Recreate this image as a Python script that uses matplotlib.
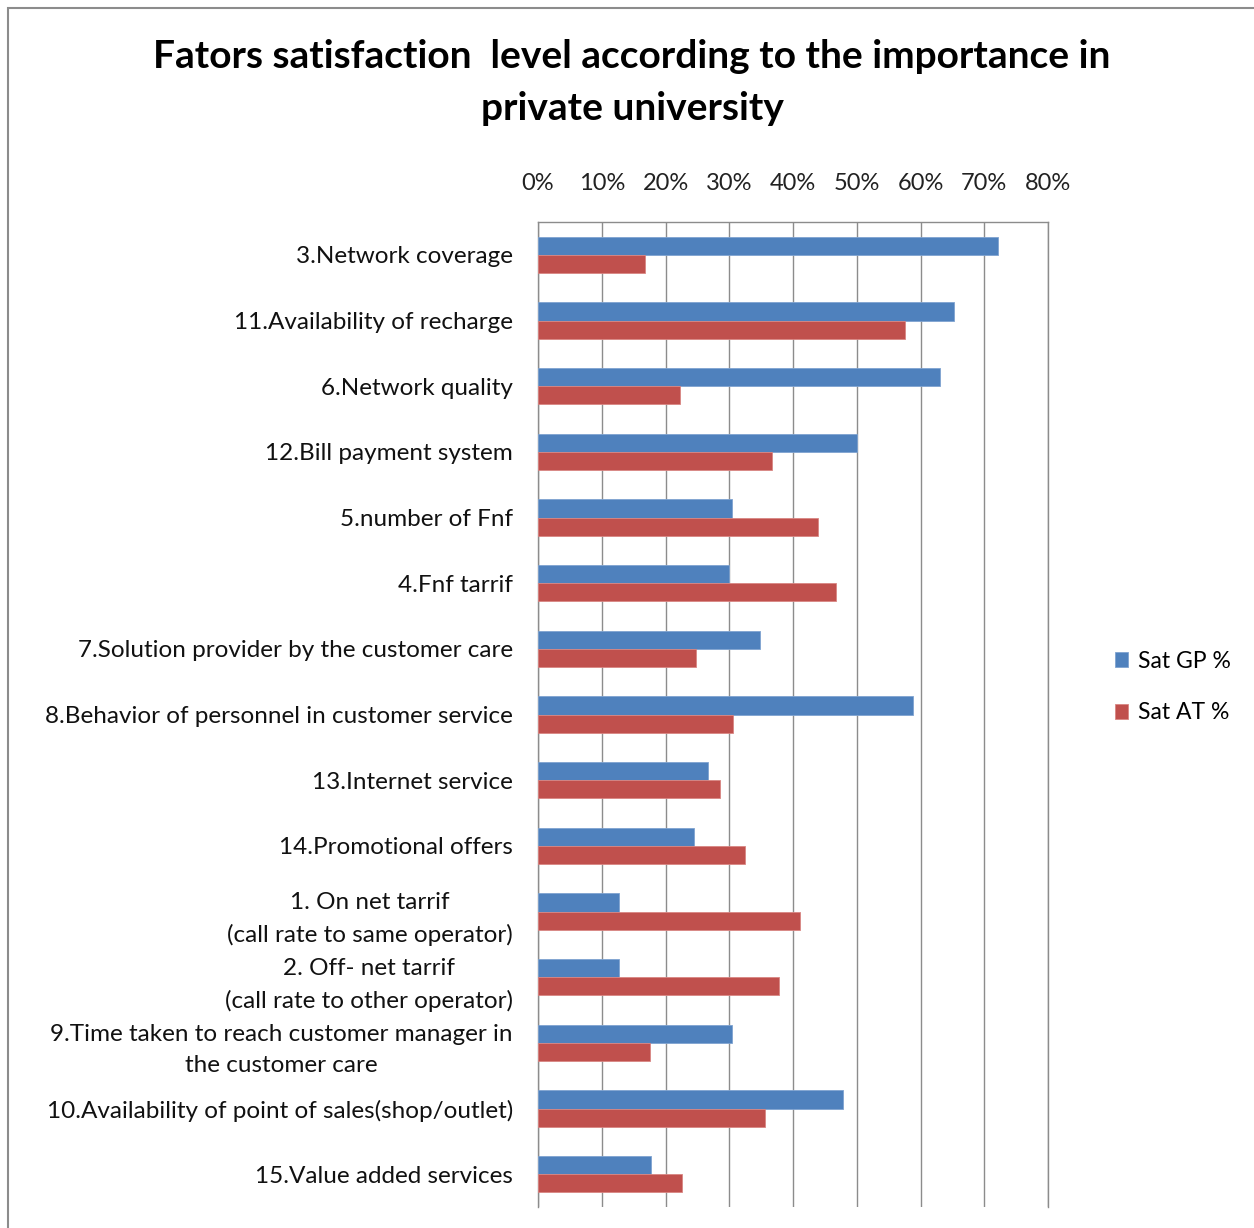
import matplotlib.pyplot as plt
import numpy as np
from matplotlib.patches import Rectangle

plt.rcParams['font.family'] = ['Lato', 'DejaVu Sans']

factors = [
    "3.Network coverage",
    "11.Availability of recharge",
    "6.Network quality",
    "12.Bill payment system",
    "5.number of Fnf",
    "4.Fnf tarrif",
    "7.Solution provider by the customer care",
    "8.Behavior of personnel in customer service",
    "13.Internet service",
    "14.Promotional offers",
    "1. On net tarrif\n(call rate to same operator)",
    "2. Off- net tarrif\n(call rate to other operator)",
    "9.Time taken to reach customer manager in\nthe customer care",
    "10.Availability of point of sales(shop/outlet)",
    "15.Value added services",
]
sat_gp = [72.2, 65.3, 63.1, 50.0, 30.4, 30.0, 34.8, 58.8, 26.7, 24.5, 12.7, 12.7, 30.4, 47.8, 17.7]
sat_at = [16.8, 57.6, 22.3, 36.7, 43.9, 46.7, 24.8, 30.6, 28.5, 32.5, 41.1, 37.8, 17.6, 35.6, 22.6]
ticks = [0, 10, 20, 30, 40, 50, 60, 70, 80]

W, H = 1254, 1228
fig = plt.figure(figsize=(W / 100, H / 100), dpi=100)
ax = fig.add_axes([538 / W, 1 - 1207 / H, (1048 - 538) / W, (1207 - 222) / H])

y = np.arange(len(factors))
h = 0.275
ax.barh(y - h / 2, sat_gp, height=h, color='#4F81BD', edgecolor='#7FA3D0', linewidth=0.6, label='Sat GP %', zorder=3)
ax.barh(y + h / 2, sat_at, height=h, color='#C0504D', edgecolor='#D98683', linewidth=0.6, label='Sat AT %', zorder=3)

ax.set_ylim(len(factors) - 0.5, -0.5)
ax.set_xlim(0, 80)
ax.set_xticks(ticks)
ax.set_xticklabels([f"{t}%" for t in ticks], fontsize=17, color='#222222')
ax.xaxis.tick_top()
ax.tick_params(axis='x', length=0, pad=20)
ax.set_yticks(y)
ax.set_yticklabels(factors, fontsize=17.5, color='#111111', multialignment='center', linespacing=1.6)
ax.tick_params(axis='y', length=0, pad=18)

ax.grid(axis='x', color='#8c8c8c', linewidth=1.0, zorder=0)
ax.spines['bottom'].set_visible(False)
for side in ['left', 'top', 'right']:
    ax.spines[side].set_color('#8c8c8c')
    ax.spines[side].set_linewidth(1.0)

fig.legend(loc='center left', bbox_to_anchor=(1094 / W, 1 - 687 / H), frameon=False,
           fontsize=16.5, handlelength=0.6, handleheight=0.6, handletextpad=0.4,
           labelspacing=1.35)

fig.text(632 / W, 1 - 57 / H, "Fators satisfaction  level according to the importance in",
         ha='center', va='center', fontsize=28, fontweight='bold')
fig.text(632 / W, 1 - 108 / H, "private university",
         ha='center', va='center', fontsize=28, fontweight='bold')

# outer chart frame
fig.patches.append(Rectangle((8 / W, -0.05), 1.2, 1 - 8 / H + 0.05, transform=fig.transFigure,
                             fill=False, edgecolor='#8c8c8c', linewidth=1.5))

fig.savefig('out.png', dpi=100)
